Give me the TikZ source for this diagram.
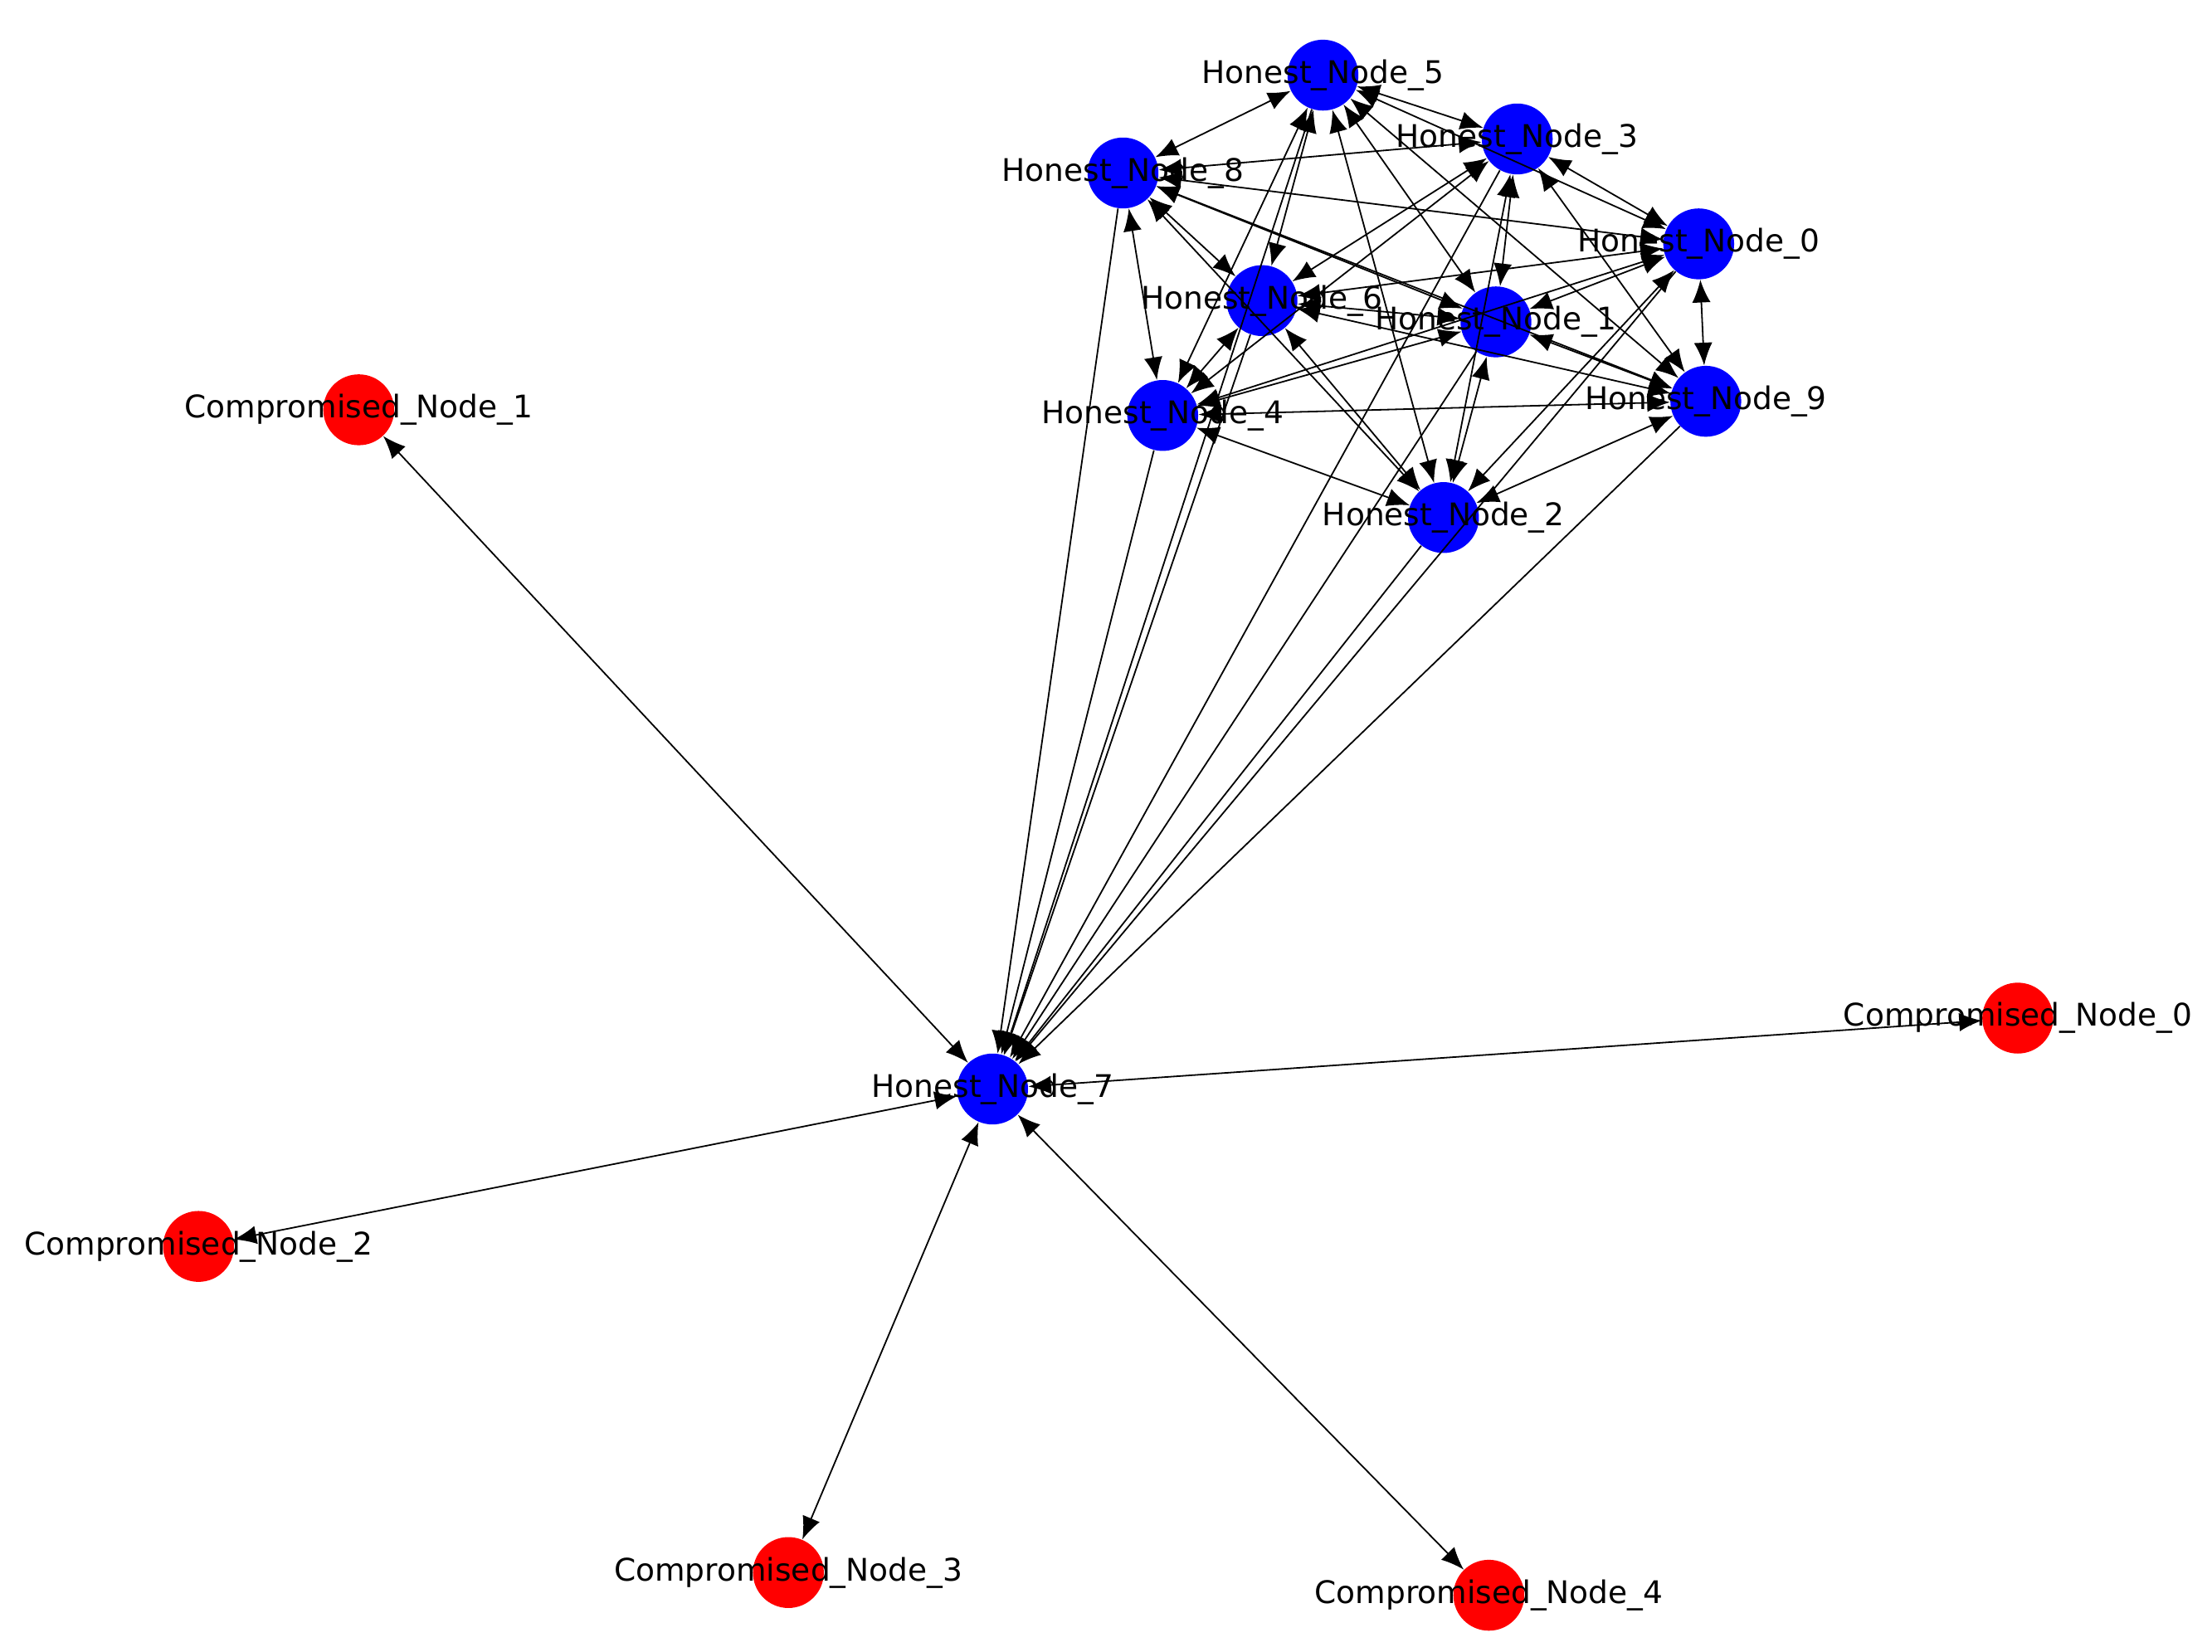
\documentclass[tikz,border=0pt]{standalone}
\usepackage{fontspec}
\setmainfont{DejaVu Sans}
\usetikzlibrary{arrows.meta}
\tikzset{
    x=0.02cm, y=-0.02cm,
    vertex/.style={circle, minimum size=1cm, inner sep=0pt},
    honest/.style={vertex, fill=blue},
    bad/.style={vertex, fill=red},
    link/.style={line width=0.6pt, {Latex[length=0.32cm,width=0.26cm]}-{Latex[length=0.32cm,width=0.26cm]}},
    inlink/.style={line width=0.6pt, -{Latex[length=0.32cm,width=0.26cm]}},
    tag/.style={font=\fontsize{12.5}{14}\selectfont, inner sep=0pt},
}
\begin{document}
\begin{tikzpicture}
    \useasboundingbox (0,0) rectangle (1560,1165);
    % honest nodes
    \foreach \i/\x/\y in {0/1198/172, 1/1055/227, 2/1018/365, 3/1070/98, 4/820/293,
                          5/933/53, 6/890/212, 7/700/768, 8/792/122, 9/1203/283}
        \node[honest] (h\i) at (\x,\y) {};
    % compromised nodes
    \foreach \i/\x/\y in {0/1423/718, 1/253/289, 2/140/879, 3/556/1109, 4/1050/1125}
        \node[bad] (c\i) at (\x,\y) {};

    % honest cluster, every pair both ways
    \foreach \i in {0,...,8}{
        \pgfmathtruncatemacro\k{\i+1}
        \foreach \j in {\k,...,9}{
            \ifnum\i=7\else\ifnum\j=7\else
                \draw[link] (h\i) -- (h\j);
            \fi\fi
        }
    }
    % everything flows into node 7
    \foreach \i in {0,1,2,3,4,5,6,8,9}
        \draw[inlink] (h\i) -- (h7);
    \foreach \i in {0,...,4}
        \draw[link] (h7) -- (c\i);

    % labels
    \foreach \i in {0,...,9}
        \node[tag] (lh\i) at (h\i) {Honest\_Node\_\i};
    \foreach \i in {0,...,4}
        \node[tag] (lc\i) at (c\i) {Compromised\_Node\_\i};
\end{tikzpicture}
\end{document}
